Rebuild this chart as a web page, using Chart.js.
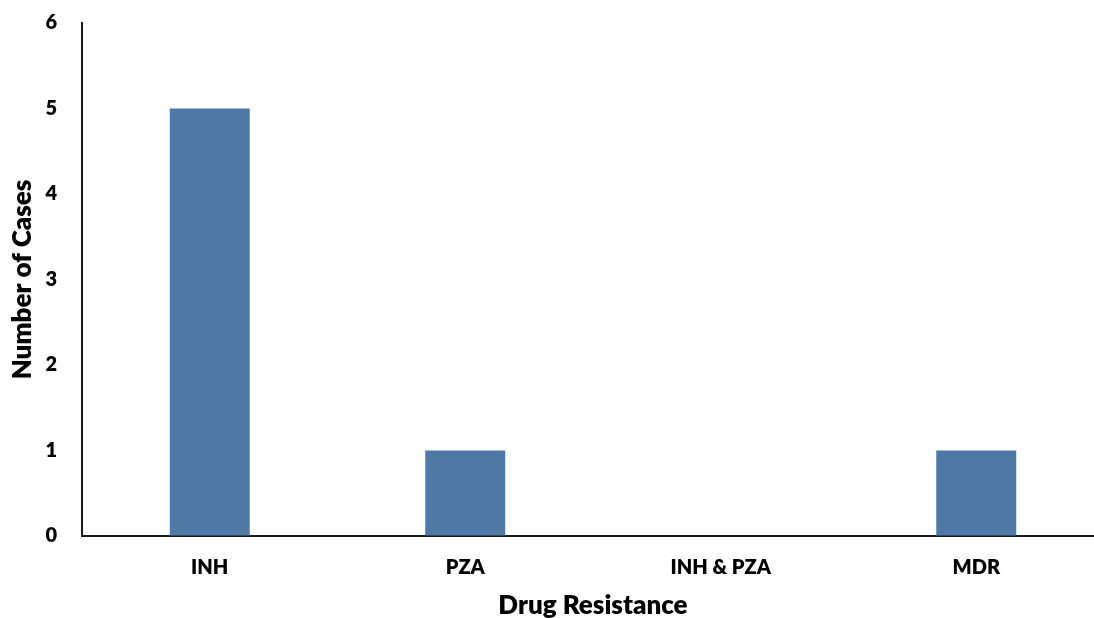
<!DOCTYPE html>
<html>
<head>
<meta charset="utf-8">
<script src="https://cdn.jsdelivr.net/npm/chart.js@4.4.1/dist/chart.umd.min.js"></script>
<style>
  html, body { margin: 0; padding: 0; background: #fff; overflow: hidden; }
  #wrap { width: 1104px; height: 618px; }
</style>
</head>
<body>
<div id="wrap"><canvas id="c" width="1104" height="618"></canvas></div>
<script>
// Drug resistance cases per category
const categories = ['INH', 'PZA', 'INH & PZA', 'MDR'];
const caseCounts = [5, 1, 0, 1];
const yTicks = [0, 1, 2, 3, 4, 5, 6];

const barColor = '#4E78A6';
const axisColor = '#1a1a1a';
const fontFamily = 'Lato, "Open Sans", sans-serif';

new Chart(document.getElementById('c'), {
  type: 'bar',
  data: {
    labels: categories,
    datasets: [{
      data: caseCounts,
      backgroundColor: barColor,
      borderWidth: 0,
      categoryPercentage: 1.0,
      barPercentage: 0.313
    }]
  },
  options: {
    responsive: false,
    animation: false,
    devicePixelRatio: 1,
    layout: { padding: { top: 23, left: 7, right: 0, bottom: 0 } },
    plugins: {
      legend: { display: false },
      tooltip: { enabled: false }
    },
    scales: {
      x: {
        grid: { display: false, drawTicks: false },
        border: { display: true, color: axisColor, width: 2 },
        ticks: {
          color: '#000',
          padding: 20,
          font: { family: fontFamily, size: 20, weight: '800' }
        },
        title: {
          display: true,
          text: 'Drug Resistance',
          color: '#000',
          padding: { top: 0, bottom: -3 },
          font: { family: fontFamily, size: 26, weight: '800' }
        },
        afterFit: (scale) => { scale.height = 82; }
      },
      y: {
        min: 0,
        max: 6,
        // invisible tick marks keep the labels clear of the axis line
        grid: {
          display: true,
          drawOnChartArea: false,
          drawTicks: true,
          tickLength: 25,
          tickColor: 'rgba(0,0,0,0)'
        },
        border: { display: true, color: axisColor, width: 2 },
        afterBuildTicks: (scale) => { scale.ticks = yTicks.map(v => ({ value: v })); },
        ticks: {
          color: '#000',
          padding: 0,
          font: { family: fontFamily, size: 20, weight: '800' }
        },
        title: {
          display: true,
          text: 'Number of Cases',
          color: '#000',
          padding: { top: 0, bottom: 0 },
          font: { family: fontFamily, size: 26, weight: '800' }
        },
        afterFit: (scale) => { scale.width = 75; }
      }
    }
  }
});
</script>
</body>
</html>
